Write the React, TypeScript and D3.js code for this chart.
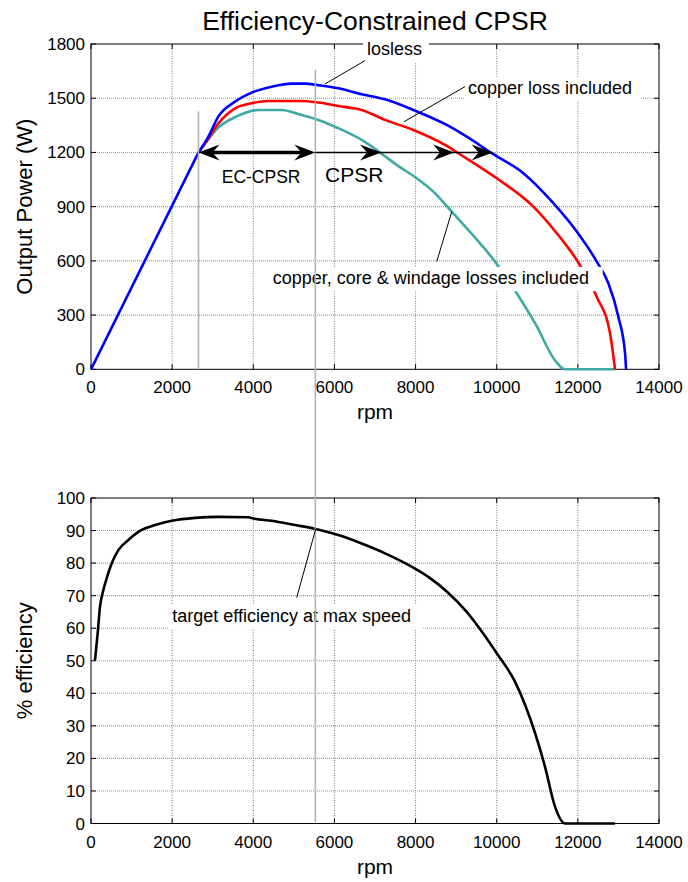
import React from "react";
import * as d3 from "d3";

// ---------- data ----------
const xTicks = [0, 2000, 4000, 6000, 8000, 10000, 12000, 14000];
const powerTicks = [0, 300, 600, 900, 1200, 1500, 1800];
const effTicks = [0, 10, 20, 30, 40, 50, 60, 70, 80, 90, 100];

// lossless: constant-torque ramp then field-weakening curve
const rpmRamp = [0, 2650];
const powerRamp = [0, 1200];
const rpmLossless = [2650, 2893, 3138, 3550, 3961, 4454, 4947, 5276, 5604, 6097, 6672, 7247, 7945, 8768, 9261, 9877, 10656, 11396, 11972, 12465, 12752, 12998, 13163, 13188];
const powerLossless = [1200, 1287, 1398, 1481, 1531, 1564, 1581, 1581, 1572, 1555, 1522, 1494, 1435, 1352, 1287, 1196, 1085, 919, 762, 596, 476, 291, 89, 0];

const rpmCopper = [2650, 2850, 3138, 3550, 3961, 4372, 5194, 5604, 6097, 6672, 7247, 7945, 8768, 9015, 10001, 10903, 11479, 11997, 12465, 12793, 12916];
const powerCopper = [1200, 1262, 1360, 1444, 1472, 1485, 1485, 1476, 1457, 1435, 1380, 1324, 1236, 1201, 1057, 900, 753, 596, 402, 199, 0];

const rpmAll = [2650, 2800, 3138, 3550, 4125, 4700, 5111, 5604, 6097, 6672, 7206, 7535, 8028, 8438, 8892, 9589, 9959, 10493, 10945, 11463, 11685, 12916];
const powerAll = [1200, 1245, 1337, 1395, 1435, 1435, 1413, 1380, 1334, 1269, 1186, 1131, 1057, 983, 872, 697, 596, 421, 255, 42, 0, 0];

const rpmEff = [99, 164, 222, 304, 386, 509, 674, 920, 1249, 1578, 1989, 2564, 3138, 3877, 4000, 4454, 5029, 5539, 6097, 6672, 7247, 7945, 8356, 8768, 9261, 9671, 10001, 10450, 10945, 11191, 11437, 11684, 12916];
const efficiency = [50.2, 58.4, 66.6, 71.7, 75.3, 79.9, 84.0, 87.1, 90.2, 91.7, 93.0, 93.9, 94.2, 94.1, 93.7, 93.0, 91.7, 90.5, 88.6, 86.0, 83.0, 78.6, 75.4, 71.3, 65.0, 58.3, 52.3, 43.6, 27.8, 17.4, 5.2, 0, 0];

// annotation anchors (data units)
const baseSpeed = 2650;
const maxSpeedTarget = 5530;
const arrowPower = 1200;
const cpsrTips = [7150, 8950, 9900];

// ---------- layout ----------
const W = 688, H = 882;
const FONT = "'Liberation Sans', Arial, Helvetica, sans-serif";
const x = d3.scaleLinear().domain([0, 14000]).range([91, 659]);
const yP = d3.scaleLinear().domain([0, 1800]).range([369.3, 44]);
const yE = d3.scaleLinear().domain([0, 100]).range([823.5, 498]);

function Axes({ y, yTicks, xLabel, yLabel }: any) {
  const [y0, y1] = y.range();
  const [x0, x1] = x.range();
  const tl = 5;
  return (
    <g>
      {xTicks.slice(1, -1).map((t) => (
        <line key={"gx" + t} x1={x(t)} x2={x(t)} y1={y0} y2={y1} stroke="#666" strokeWidth={0.9} strokeDasharray="1 1.5" />
      ))}
      {yTicks.slice(1, -1).map((t: number) => (
        <line key={"gy" + t} x1={x0} x2={x1} y1={y(t)} y2={y(t)} stroke="#999" strokeWidth={1.1} strokeDasharray="1 1" />
      ))}
      {xTicks.map((t) => (
        <g key={"tx" + t}>
          <line x1={x(t)} x2={x(t)} y1={y0} y2={y0 - tl} stroke="#000" />
          <line x1={x(t)} x2={x(t)} y1={y1} y2={y1 + tl} stroke="#000" />
          <text x={x(t)} y={y0 + 24} textAnchor="middle" fontSize={17} fontFamily={FONT}>{t}</text>
        </g>
      ))}
      {yTicks.map((t: number) => (
        <g key={"ty" + t}>
          <line x1={x0} x2={x0 + tl} y1={y(t)} y2={y(t)} stroke="#000" />
          <line x1={x1} x2={x1 - tl} y1={y(t)} y2={y(t)} stroke="#000" />
          <text x={x0 - 6} y={y(t) + 6} textAnchor="end" fontSize={17} fontFamily={FONT}>{t}</text>
        </g>
      ))}
      <rect x={x0} y={y1} width={x1 - x0} height={y0 - y1} fill="none" stroke="#000" strokeWidth={1} />
      <text x={(x0 + x1) / 2} y={y0 + 50} textAnchor="middle" fontSize={21} fontFamily={FONT}>{xLabel}</text>
      <text transform={`translate(32,${(y0 + y1) / 2}) rotate(-90)`} textAnchor="middle" fontSize={22} fontFamily={FONT}>{yLabel}</text>
    </g>
  );
}

function Label({ px, py, text, size = 18, bg = true, w }: any) {
  const width = w ?? text.length * size * 0.5;
  return (
    <g>
      {bg && <rect x={px - 4} y={py - size * 0.95} width={width + 8} height={size * 1.35} fill="#fff" />}
      <text x={px} y={py} fontSize={size} fontFamily={FONT}>{text}</text>
    </g>
  );
}

function Arrowhead({ tx, ty, dir, L = 21, hw = 8 }: any) {
  const d = `M${tx},${ty} L${tx - dir * L},${ty - hw} L${tx - dir * (L - 7)},${ty} L${tx - dir * L},${ty + hw} Z`;
  return <path d={d} fill="#000" />;
}

export default function App() {
  const mk = (xs: number[], ys: number[], ys2: any, curve: any) =>
    d3.line<number>().curve(curve).x((i) => x(xs[i])).y((i) => ys2(ys[i]))(xs.map((_, i) => i)) as string;
  const ya = yP(arrowPower);

  return (
    <svg width={W} height={H} style={{ position: "absolute", left: 0, top: 0, background: "#fff" }}>
      <rect width={W} height={H} fill="#fff" />
      <text x={375} y={30} textAnchor="middle" fontSize={26.5} fontFamily={FONT}>Efficiency-Constrained CPSR</text>

      <Axes y={yP} yTicks={powerTicks} xLabel="rpm" yLabel="Output Power (W)" />
      <Axes y={yE} yTicks={effTicks} xLabel="rpm" yLabel="% efficiency" />

      {/* curves */}
      <path d={mk(rpmAll, powerAll, yP, d3.curveMonotoneX)} fill="none" stroke="#3fa9a4" strokeWidth={2.6} />
      <path d={mk(rpmCopper, powerCopper, yP, d3.curveMonotoneX)} fill="none" stroke="#ff0000" strokeWidth={2.6} />
      <path d={mk(rpmRamp, powerRamp, yP, d3.curveLinear)} fill="none" stroke="#0000ff" strokeWidth={2.6} />
      <path d={mk(rpmLossless, powerLossless, yP, d3.curveMonotoneX)} fill="none" stroke="#0000ff" strokeWidth={2.6} />
      <path d={mk(rpmEff, efficiency, yE, d3.curveMonotoneX)} fill="none" stroke="#000" strokeWidth={2.6} />

      {/* labels with white background */}
      <Label px={x(6803)} py={yP(1740)} text="losless" w={58} />
      <Label px={x(9293)} py={yP(1524)} text="copper loss included" w={169} />
      <Label px={x(4479)} py={yP(472)} text="copper, core & windage losses included" w={326} />
      <Label px={x(2004)} py={yE(62)} text="target efficiency at max speed" w={247} />
      <Label px={x(3222)} py={yP(1033)} text="EC-CPSR" size={17.5} bg={false} />
      <Label px={x(5768)} py={yP(1038)} text="CPSR" size={21} bg={false} />

      {/* gray marker lines */}
      <line x1={x(baseSpeed)} x2={x(baseSpeed)} y1={yP(1426)} y2={yP(0)} stroke="#b5b5b5" strokeWidth={1.6} />
      <line x1={x(maxSpeedTarget)} x2={x(maxSpeedTarget)} y1={yP(1657)} y2={yE(0.3)} stroke="#b5b5b5" strokeWidth={1.6} />

      {/* leader lines */}
      <line x1={x(5768)} y1={yP(1579)} x2={x(6754)} y2={yP(1708)} stroke="#000" strokeWidth={1} />
      <line x1={x(7715)} y1={yP(1370)} x2={x(9219)} y2={yP(1564)} stroke="#000" strokeWidth={1} />
      <line x1={x(8522)} y1={yP(596)} x2={x(8891)} y2={yP(872)} stroke="#000" strokeWidth={1} />
      <line x1={x(5070)} y1={yE(69.4)} x2={x(5539)} y2={yE(90.5)} stroke="#000" strokeWidth={1} />

      {/* arrows */}
      <line x1={x(maxSpeedTarget)} x2={x(cpsrTips[2])} y1={ya} y2={ya} stroke="#000" strokeWidth={1.5} />
      {cpsrTips.map((t) => <Arrowhead key={t} tx={x(t)} ty={ya} dir={1} />)}
      <line x1={x(baseSpeed) + 6} x2={x(maxSpeedTarget) - 6} y1={ya} y2={ya} stroke="#000" strokeWidth={3.5} />
      <Arrowhead tx={x(baseSpeed)} ty={ya} dir={-1} />
      <Arrowhead tx={x(maxSpeedTarget)} ty={ya} dir={1} />
    </svg>
  );
}
